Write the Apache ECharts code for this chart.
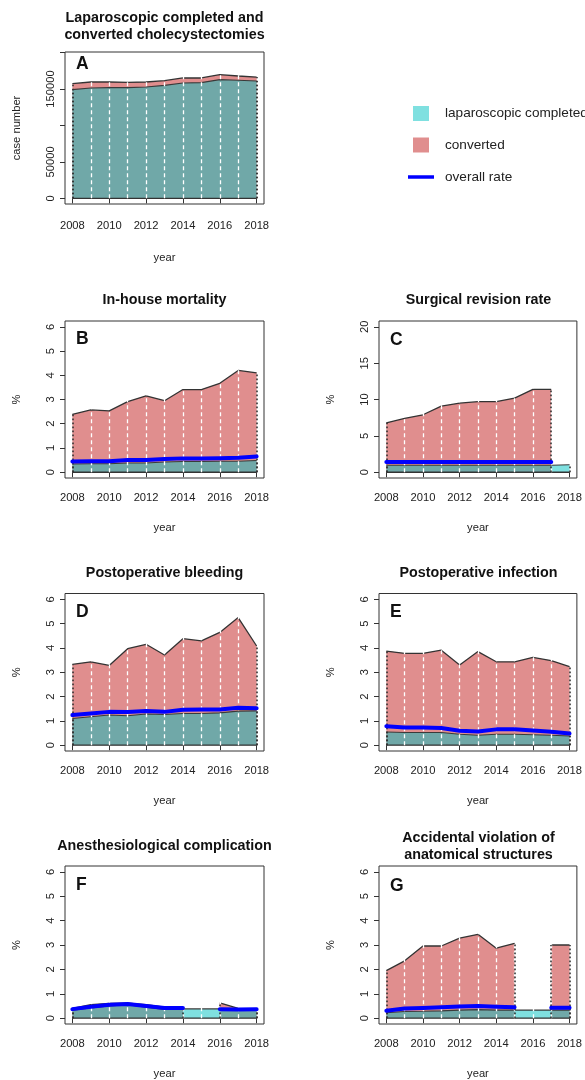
<!DOCTYPE html>
<html>
<head>
<meta charset="utf-8">
<script src="https://cdn.jsdelivr.net/npm/echarts@6/dist/echarts.min.js"></script>
<style>
html, body { margin: 0; padding: 0; background: #ffffff; }
#chart { width: 585px; height: 1080px; }
</style>
</head>
<body>
<div id="chart"></div>
<script>
// ---- data -------------------------------------------------------------
const years = [2008, 2009, 2010, 2011, 2012, 2013, 2014, 2015, 2016, 2017, 2018];
const yearTicks = [2008, 2010, 2012, 2014, 2016, 2018];

// A: case numbers
const lapCases = [149100, 151400, 151800, 151800, 152800, 155000, 158200, 158700, 162800, 161900, 161000];
const convertedCases = [8200, 8200, 7800, 7300, 6800, 6400, 6900, 6400, 6800, 5900, 5400];
const caseTicks = [0, 50000, 100000, 150000, 200000];
const caseTickLabels = [0, 50000, 150000];

// percent axes
const pctTicks = [0, 1, 2, 3, 4, 5, 6];
const revisionTicks = [0, 5, 10, 15, 20];

// B: in-house mortality (%)
const mortalityLap = [0.34, 0.35, 0.35, 0.38, 0.38, 0.42, 0.44, 0.44, 0.45, 0.45, 0.48];
const mortalityConverted = [2.39, 2.57, 2.53, 2.91, 3.15, 2.95, 3.41, 3.41, 3.67, 4.20, 4.10];
const mortalityOverall = [0.44, 0.45, 0.45, 0.50, 0.50, 0.54, 0.57, 0.57, 0.58, 0.60, 0.65];

// C: surgical revision rate (%)
const revisionLap = [0.95, 0.95, 0.95, 0.95, 0.95, 0.95, 0.95, 0.95, 0.95, 0.95, 1.02];
const revisionConverted = [6.8, 7.4, 7.9, 9.1, 9.5, 9.7, 9.7, 10.2, 11.4, 11.4, null];
const revisionOverall = [1.40, 1.40, 1.40, 1.40, 1.40, 1.40, 1.40, 1.40, 1.40, 1.40, null];

// D: postoperative bleeding (%)
const bleedingLap = [1.10, 1.17, 1.24, 1.21, 1.28, 1.26, 1.30, 1.30, 1.33, 1.40, 1.41];
const bleedingConverted = [3.32, 3.43, 3.28, 3.97, 4.15, 3.71, 4.38, 4.29, 4.64, 5.25, 4.08];
const bleedingOverall = [1.24, 1.30, 1.37, 1.36, 1.41, 1.37, 1.46, 1.47, 1.47, 1.54, 1.52];

// E: postoperative infection (%)
const infectionLap = [0.54, 0.52, 0.52, 0.52, 0.45, 0.41, 0.45, 0.45, 0.43, 0.41, 0.38];
const infectionConverted = [3.87, 3.78, 3.78, 3.91, 3.30, 3.85, 3.43, 3.43, 3.61, 3.48, 3.23];
const infectionOverall = [0.78, 0.73, 0.73, 0.71, 0.59, 0.56, 0.65, 0.65, 0.60, 0.55, 0.48];

// F: anesthesiological complication (%)
const anesthesiaLap = [0.33, 0.42, 0.50, 0.55, 0.45, 0.36, 0.38, 0.38, 0.38, 0.32, 0.32];
const anesthesiaConverted = [0.40, 0.55, 0.60, 0.62, 0.55, 0.45, 0.42, null, 0.63, 0.40, 0.36];
const anesthesiaOverall = [0.37, 0.47, 0.55, 0.58, 0.50, 0.42, 0.42, null, 0.37, 0.35, 0.36];

// G: accidental violation of anatomical structures (%)
const violationLap = [0.22, 0.27, 0.28, 0.30, 0.33, 0.35, 0.33, 0.33, 0.33, 0.33, 0.33];
const violationConverted = [1.95, 2.35, 2.96, 2.96, 3.28, 3.44, 2.87, 3.07, null, 3.00, 3.00];
const violationOverall = [0.30, 0.40, 0.42, 0.45, 0.48, 0.50, 0.47, 0.45, null, 0.43, 0.43];

// ---- styling ----------------------------------------------------------
const FONT = '"Liberation Sans", Arial, Helvetica, sans-serif';
const PINK = '#E08E8E';
const LAP_FILL = 'rgba(0,193,193,0.5)';
const BLUE = '#0000FF';
const EDGE = '#333333';
const TEXT = '#222222';

const COL_LEFT = [65, 379];
const BOX_W = 199;

// total case counts drawn as the converted area in panel A
const totalCases = lapCases.map((v, k) => v + convertedCases[k]);

const panels = [
  { letter: 'A', title: 'Laparoscopic completed and\nconverted cholecystectomies', yName: 'case number',
    col: 0, top: 52, height: 152, titleY: 18, letterY: 64.5, yMin: -7720, yMax: 200720, yTop: 200000,
    yTicks: caseTicks, yLabels: caseTickLabels, lap: lapCases, conv: totalCases, overall: null,
    labelMargin: 16, xNameGap: 48 },
  { letter: 'B', title: 'In-house mortality', yName: '%', col: 0, top: 321, height: 157, titleY: 300, letterY: 339.5,
    yMin: -0.24, yMax: 6.24, yTop: 6, yTicks: pctTicks, yLabels: pctTicks,
    lap: mortalityLap, conv: mortalityConverted, overall: mortalityOverall },
  { letter: 'C', title: 'Surgical revision rate', yName: '%', col: 1, top: 321, height: 157, titleY: 300, letterY: 340,
    yMin: -0.8, yMax: 20.8, yTop: 20, yTicks: revisionTicks, yLabels: revisionTicks,
    lap: revisionLap, conv: revisionConverted, overall: revisionOverall },
  { letter: 'D', title: 'Postoperative bleeding', yName: '%', col: 0, top: 593.5, height: 157.5, titleY: 573, letterY: 612.5,
    yMin: -0.24, yMax: 6.24, yTop: 6, yTicks: pctTicks, yLabels: pctTicks,
    lap: bleedingLap, conv: bleedingConverted, overall: bleedingOverall },
  { letter: 'E', title: 'Postoperative infection', yName: '%', col: 1, top: 593.5, height: 157.5, titleY: 573, letterY: 612.5,
    yMin: -0.24, yMax: 6.24, yTop: 6, yTicks: pctTicks, yLabels: pctTicks,
    lap: infectionLap, conv: infectionConverted, overall: infectionOverall },
  { letter: 'F', title: 'Anesthesiological complication', yName: '%', col: 0, top: 866, height: 158, titleY: 846, letterY: 885,
    yMin: -0.24, yMax: 6.24, yTop: 6, yTicks: pctTicks, yLabels: pctTicks,
    lap: anesthesiaLap, conv: anesthesiaConverted, overall: anesthesiaOverall },
  { letter: 'G', title: 'Accidental violation of\nanatomical structures', yName: '%', col: 1, top: 866, height: 158, titleY: 838, letterY: 886,
    yMin: -0.24, yMax: 6.24, yTop: 6, yTicks: pctTicks, yLabels: pctTicks,
    lap: violationLap, conv: violationConverted, overall: violationOverall }
];

const pairs = arr => years.map((y, k) => [y, arr[k] == null ? null : arr[k]]);

// vertical polygon sides at the ends of every unbroken run of values
function runEdges(arr) {
  const edges = [];
  let start = -1;
  for (let k = 0; k <= arr.length; k++) {
    const ok = k < arr.length && arr[k] != null;
    if (ok && start < 0) start = k;
    if (!ok && start >= 0) {
      edges.push([years[start], arr[start]]);
      edges.push([years[k - 1], arr[k - 1]]);
      start = -1;
    }
  }
  return edges;
}

const grid = [], xAxis = [], yAxis = [], series = [], title = [];

panels.forEach((p, i) => {
  const left = COL_LEFT[p.col];
  grid.push({ left: left, top: p.top, width: BOX_W, height: p.height, show: true,
    borderColor: EDGE, borderWidth: 1, backgroundColor: 'transparent' });

  xAxis.push({
    gridIndex: i, type: 'value', min: 2007.6, max: 2018.4,
    axisLine: { show: false },
    axisTick: { show: true, length: 5, customValues: yearTicks, lineStyle: { color: EDGE, width: 1 } },
    axisLabel: { customValues: yearTicks, margin: p.labelMargin || 14, fontSize: 11.2, color: TEXT,
      fontFamily: FONT, formatter: v => String(v) },
    splitLine: { show: false },
    name: 'year', nameLocation: 'middle', nameGap: p.xNameGap || 44,
    nameTextStyle: { fontSize: 11.2, color: TEXT, fontFamily: FONT }
  });

  yAxis.push({
    gridIndex: i, type: 'value', min: p.yMin, max: p.yMax,
    axisLine: { show: false },
    axisTick: { show: true, length: 5, customValues: p.yTicks, lineStyle: { color: EDGE, width: 1 } },
    axisLabel: { customValues: p.yLabels, rotate: 90, margin: 9, fontSize: 11.2, color: TEXT,
      fontFamily: FONT, formatter: v => String(v) },
    splitLine: { show: false },
    name: p.yName, nameLocation: 'middle', nameGap: 43, nameRotate: 90,
    nameTextStyle: { fontSize: 11.2, color: TEXT, fontFamily: FONT }
  });

  title.push({
    text: p.title, left: left + BOX_W / 2, textAlign: 'center', top: p.titleY - 8.5, padding: 0,
    textStyle: { fontSize: 14.3, fontWeight: 'bold', color: '#111', fontFamily: FONT, lineHeight: 17 }
  });
  title.push({
    text: p.letter, left: left + 11, top: p.letterY - 9, padding: 0,
    textStyle: { fontSize: 17.5, fontWeight: 'bold', color: '#111', fontFamily: FONT, lineHeight: 18 }
  });

  const base = { type: 'line', xAxisIndex: i, yAxisIndex: i, symbol: 'none', showSymbol: false,
    connectNulls: false, animation: false, silent: true };

  series.push(Object.assign({}, base, {
    name: 'converted', data: pairs(p.conv), z: 2,
    lineStyle: { color: EDGE, width: 1.3 },
    areaStyle: { color: PINK, opacity: 1 }
  }));
  series.push(Object.assign({}, base, {
    name: 'laparoscopic completed', data: pairs(p.lap), z: 3,
    lineStyle: { color: '#3a3a3a', width: 1.1 },
    areaStyle: { color: LAP_FILL, opacity: 1 }
  }));

  // guide lines: white dashed year lines, dotted polygon sides and the zero baseline
  const guide = [];
  years.slice(1, -1).forEach(y => {
    guide.push([{ coord: [y, 0], lineStyle: { color: '#ffffff', width: 1.3, type: [4, 3] } },
                { coord: [y, p.yTop] }]);
  });
  runEdges(p.conv).concat(runEdges(p.lap)).forEach(([x, v]) => {
    guide.push([{ coord: [x, 0], lineStyle: { color: EDGE, width: 1.6, type: [1.6, 2.4] } },
                { coord: [x, v] }]);
  });
  series.push(Object.assign({}, base, {
    name: 'baseline', data: [[years[0], 0], [years[years.length - 1], 0]], z: 4,
    lineStyle: { color: EDGE, width: 1.4 },
    markLine: { silent: true, symbol: 'none', animation: false, label: { show: false },
      emphasis: { disabled: true }, data: guide }
  }));

  if (p.overall) {
    series.push(Object.assign({}, base, {
      name: 'overall rate', data: pairs(p.overall), z: 5,
      lineStyle: { color: BLUE, width: 4, cap: 'round', join: 'round' }
    }));
  }
});

// legend block in the upper right
const legendItems = [
  { label: 'laparoscopic completed', y: 113 },
  { label: 'converted', y: 145 },
  { label: 'overall rate', y: 177 }
];
const graphic = [
  { type: 'rect', shape: { x: 413, y: 106, width: 16, height: 15 }, style: { fill: LAP_FILL } },
  { type: 'rect', shape: { x: 413, y: 137.5, width: 16, height: 15 }, style: { fill: PINK } },
  { type: 'line', shape: { x1: 408, y1: 177, x2: 434, y2: 177 }, style: { stroke: BLUE, lineWidth: 3.5 } }
].concat(legendItems.map(it => ({
  type: 'text', x: 445, y: it.y,
  style: { text: it.label, fill: TEXT, font: '13.6px ' + FONT, textVerticalAlign: 'middle', verticalAlign: 'middle' }
})));

const chart = echarts.init(document.getElementById('chart'), null, { renderer: 'canvas', width: 585, height: 1080 });
chart.setOption({
  backgroundColor: '#ffffff',
  animation: false,
  title: title,
  grid: grid,
  xAxis: xAxis,
  yAxis: yAxis,
  series: series,
  graphic: graphic
});
</script>
</body>
</html>
